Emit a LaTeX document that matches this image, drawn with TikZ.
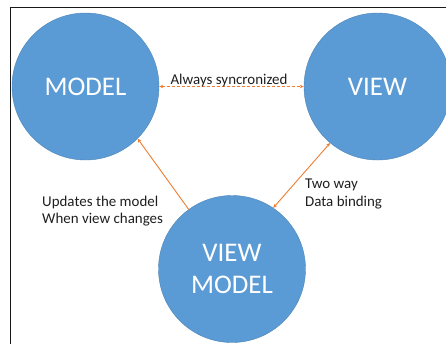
\documentclass[tikz,border=0pt]{standalone}
\usepackage{fontspec}
\setmainfont{Carlito}
\usetikzlibrary{arrows.meta}
\definecolor{mvvmblue}{RGB}{91,155,213}
\definecolor{mvvmorange}{RGB}{237,125,49}
\definecolor{mvvmtext}{RGB}{30,30,30}
\tikzset{
    layer/.style={
        circle, minimum size=147bp, inner sep=0pt,
        fill=mvvmblue, draw=mvvmblue!85!black, line width=0.4bp,
        text=white, font=\fontsize{27}{32}\selectfont, align=center
    },
    link/.style={{Stealth[length=4bp,width=3.5bp]}-, line width=0.9bp, draw=mvvmorange},
    twolink/.style={{Stealth[length=4bp,width=3.5bp]}-{Stealth[length=4bp,width=3.5bp]}, line width=0.9bp, draw=mvvmorange},
    synclink/.style={twolink, dash pattern=on 3bp off 2bp},
    note/.style={font=\fontsize{15}{17.5}\selectfont, text=mvvmtext, align=left, inner sep=0pt},
}
\begin{document}
\begin{tikzpicture}[x=1bp, y=-1bp]
    \useasboundingbox (0,0) rectangle (446,343);
    \clip (0,0) rectangle (446,343);
    \draw[line width=1.1bp, black!90] (10.5,350) -- (10.5,7.5) -- (450,7.5);

    \node[layer] (model) at (85.5, 86.5) {MODEL};
    \node[layer] (view) at (377.5, 86.5) {VIEW};
    \node[layer] (vm) at (232, 269) {VIEW\\MODEL};

    \draw[synclink] (model.east) -- (view.west);
    \draw[link] (model.-45) -- (vm.126);
    \draw[twolink] (vm.56) -- (view.230);

    \node[note, anchor=base] (sync) at (229, 84) {Always syncronized};
    \node[note, anchor=west] (update) at (42, 211) {Updates the model\\When view changes};
    \node[note, anchor=west] (binding) at (305, 194) {Two way\\Data binding};
\end{tikzpicture}
\end{document}
